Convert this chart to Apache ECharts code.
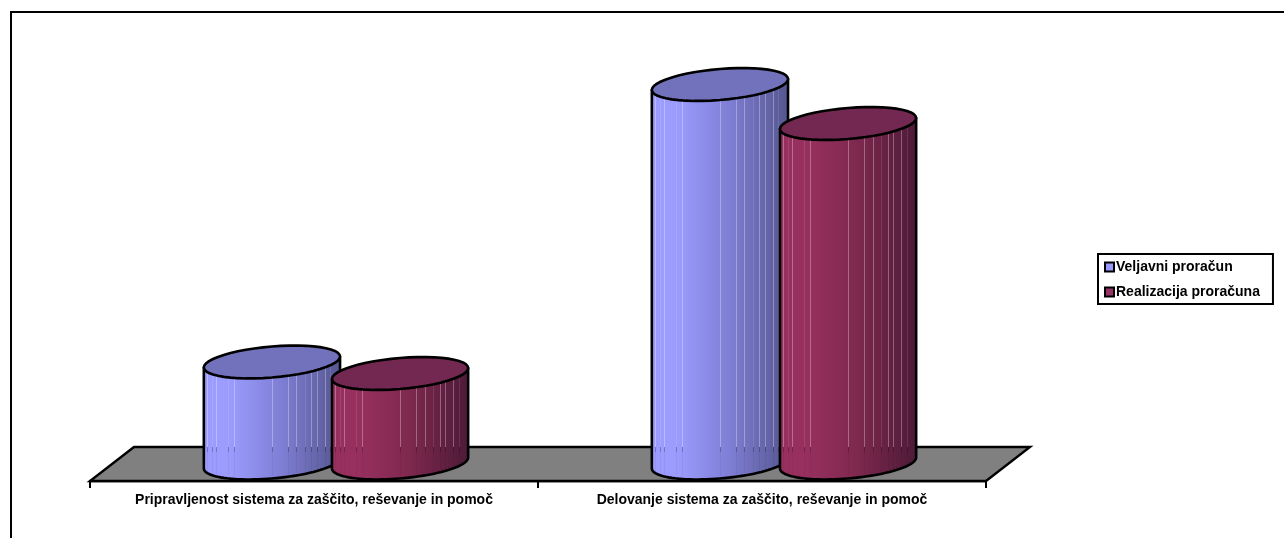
<!DOCTYPE html>
<html>
<head>
<meta charset="utf-8">
<style>html,body{margin:0;padding:0;background:#fff;overflow:hidden}#c{width:1284px;height:538px}</style>
<script src="https://cdn.jsdelivr.net/npm/echarts@6/dist/echarts.min.js"></script>
</head>
<body>
<div id="c"></div>
<script>
// Budget figures in relative units, one bar per programme
var categories = ['Pripravljenost sistema za zaščito, reševanje in pomoč', 'Delovanje sistema za zaščito, reševanje in pomoč'];
var seriesNames = ['Veljavni proračun', 'Realizacija proračuna'];
var veljavni = [101, 378.5];
var realizacija = [89.5, 339.5];

// Cylinder appearance: shaded body, flat top, thin vertical highlight lines
var palette = [
  { light: '#9C9CFF', mid: '#8080D8', dark: '#565690', top: '#7272BC', swatch: '#9999FF' },
  { light: '#98305F', mid: '#80294F', dark: '#4E1A38', top: '#722850', swatch: '#993366' }
];
var stripes = [[0.02, 0.3], [0.06, 0.1], [0.09, 0.3], [0.18, 0.1], [0.22, 0.3], [0.5, 0.3], [0.62, 0.3],
  [0.68, 0.3], [0.74, 0.1], [0.79, 0.3], [0.83, 0.3], [0.89, 0.3], [0.93, 0.1]];

var HALF_WIDTH = 0.152;   // cylinder half width, share of the category band
var SPREAD = 0.143;       // centre offset of each cylinder from the pair's middle
var DEPTH_SHIFT = 22;     // pair moved right for the oblique floor
var DEPTH_RISE = 18;      // base centre sits this far above the axis line
var FLOOR_DX = 44, FLOOR_DY = 34;

// Points along a sheared ellipse, from angle t0 to t1 (screen y grows downward)
function arc(cx, cy, a, b, s, t0, t1) {
  var pts = [], n = 48;
  for (var i = 0; i <= n; i++) {
    var t = t0 + (t1 - t0) * i / n;
    pts.push([cx + a * Math.cos(t), cy + b * Math.sin(t) - s * Math.cos(t)]);
  }
  return pts;
}

function cylinder(seriesIndex) {
  return function (params, api) {
    var pal = palette[seriesIndex];
    var band = api.size([1, 0])[0];
    var a = band * HALF_WIDTH;
    var b = 15.5, s = 5.5;
    var base = api.coord([api.value(0), 0]);
    var head = api.coord([api.value(0), api.value(1)]);
    var cx = base[0] + DEPTH_SHIFT + (seriesIndex === 0 ? -1 : 1) * band * SPREAD;
    var by = base[1] - DEPTH_RISE, ty = head[1] - DEPTH_RISE;
    var floorBack = base[1] - FLOOR_DY;

    // body outline: down the left side, round the front of the base, up the right side
    var lower = arc(cx, by, a, b, s, Math.PI, 0);
    var body = [[cx - a, ty + s]].concat(lower).concat([[cx + a, ty - s]]);
    var children = [{
      type: 'polygon',
      shape: { points: body },
      style: {
        fill: new echarts.graphic.LinearGradient(0, 0, 1, 0, [
          { offset: 0, color: pal.light },
          { offset: 0.18, color: pal.light },
          { offset: 0.55, color: pal.mid },
          { offset: 1, color: pal.dark }
        ]),
        stroke: null
      }
    }];

    // highlight lines stop at the floor's back edge; below it they turn into faint dark marks
    stripes.forEach(function (st) {
      var x = Math.round(cx - a + 2 * a * st[0]) + 0.5;
      var u = (x - cx) / a;
      var round = b * Math.sqrt(1 - u * u) - s * u;
      var topEdge = ty + round;
      var botEdge = by + round;
      children.push({
        type: 'line',
        shape: { x1: x, y1: topEdge, x2: x, y2: floorBack },
        style: { stroke: 'rgba(255,255,255,' + st[1] + ')', lineWidth: 1 }
      });
      children.push({
        type: 'line',
        shape: { x1: x, y1: floorBack, x2: x, y2: floorBack + 5 },
        style: { stroke: 'rgba(0,0,0,0.25)', lineWidth: 1 }
      });
      children.push({
        type: 'line',
        shape: { x1: x, y1: floorBack + 5, x2: x, y2: botEdge - 2 },
        style: { stroke: 'rgba(0,0,0,0.05)', lineWidth: 1 }
      });
    });

    children.push({
      type: 'polygon',
      shape: { points: body },
      style: { fill: 'none', stroke: '#000', lineWidth: 2.6, lineJoin: 'round' }
    });
    children.push({
      type: 'polygon',
      shape: { points: arc(cx, ty, a, b, s, 0, Math.PI * 2) },
      style: { fill: pal.top, stroke: '#000', lineWidth: 2.6, lineJoin: 'round' }
    });
    return { type: 'group', children: children };
  };
}

function floorShape(params) {
  var g = params.coordSys;
  var y0 = g.y + g.height;
  return {
    type: 'polygon',
    shape: {
      points: [[g.x, y0], [g.x + g.width, y0], [g.x + g.width + FLOOR_DX, y0 - FLOOR_DY], [g.x + FLOOR_DX, y0 - FLOOR_DY]]
    },
    style: { fill: '#808080', stroke: '#000', lineWidth: 2.4 }
  };
}

var font = '"Liberation Sans", Arial, sans-serif';

function pairs(values) {
  return values.map(function (v, i) { return [i, v]; });
}

var chart = echarts.init(document.getElementById('c'), null, { renderer: 'canvas' });
chart.setOption({
  animation: false,
  backgroundColor: '#fff',
  graphic: [{
    type: 'rect',
    shape: { x: 11, y: 12, width: 1400, height: 600 },
    style: { fill: 'none', stroke: '#000', lineWidth: 2 },
    silent: true
  }],
  legend: {
    orient: 'vertical',
    left: 1098,
    top: 254,
    padding: [6, 13, 5, 6],
    itemGap: 11,
    itemWidth: 9,
    itemHeight: 9,
    icon: 'rect',
    borderColor: '#000',
    borderWidth: 2,
    data: seriesNames,
    textStyle: { fontFamily: font, fontWeight: 'bold', fontSize: 14, color: '#000', padding: [0, 0, 0, -3] }
  },
  grid: { left: 90, width: 896, top: 31, height: 450 },
  xAxis: {
    type: 'category',
    data: categories,
    axisLine: { lineStyle: { color: '#000', width: 2.4 } },
    axisTick: { show: true, alignWithLabel: false, length: 7, lineStyle: { color: '#000', width: 2 } },
    axisLabel: { interval: 0, margin: 12, fontFamily: font, fontWeight: 'bold', fontSize: 14, color: '#000' }
  },
  yAxis: { type: 'value', min: 0, max: 450, show: false, splitLine: { show: false } },
  series: [
    { type: 'custom', name: 'floor', z: 1, silent: true, renderItem: floorShape, data: [[0, 0]], encode: { x: 0, y: 1 } },
    {
      type: 'custom', name: seriesNames[0], z: 2, renderItem: cylinder(0), data: pairs(veljavni),
      encode: { x: 0, y: 1 },
      itemStyle: { color: palette[0].swatch, borderColor: '#000', borderWidth: 2 }
    },
    {
      type: 'custom', name: seriesNames[1], z: 3, renderItem: cylinder(1), data: pairs(realizacija),
      encode: { x: 0, y: 1 },
      itemStyle: { color: palette[1].swatch, borderColor: '#000', borderWidth: 2 }
    }
  ]
});
</script>
</body>
</html>
